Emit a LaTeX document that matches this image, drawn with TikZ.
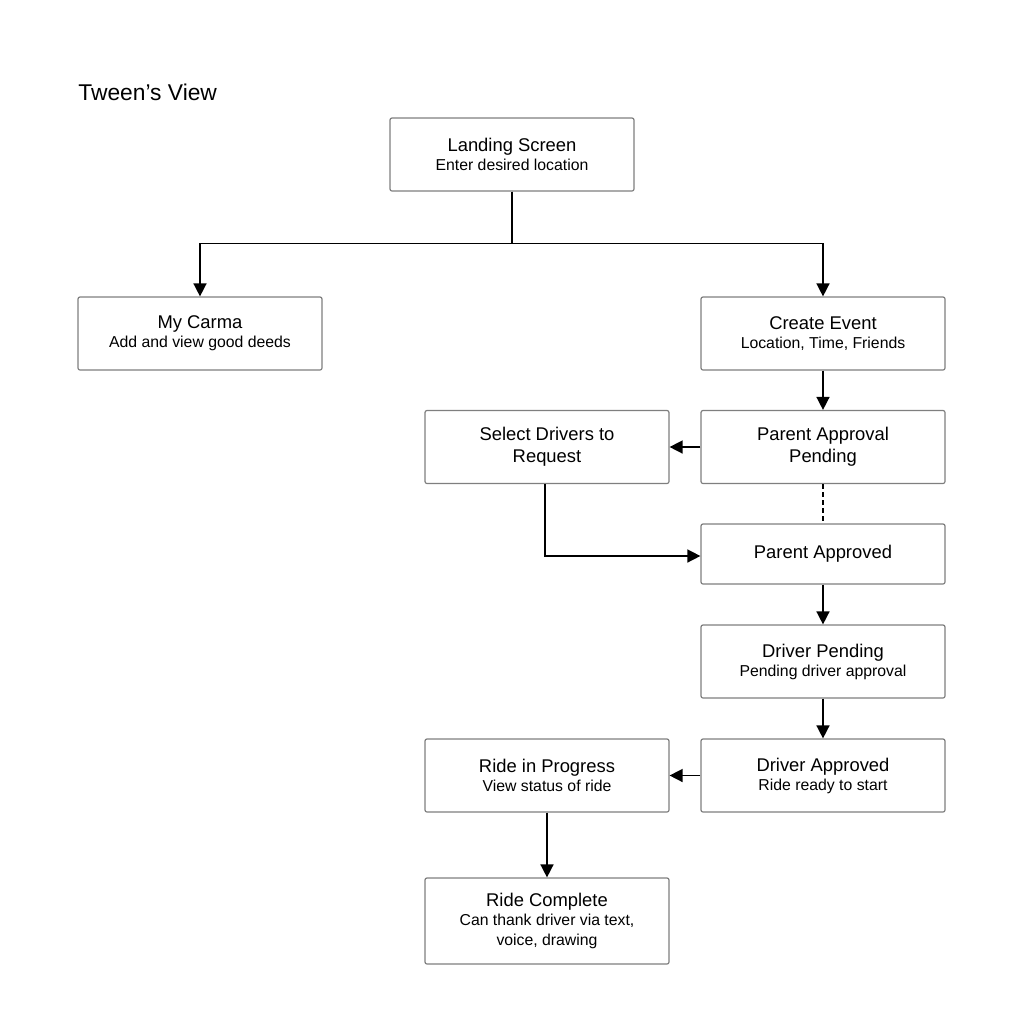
\documentclass[tikz,border=0pt]{standalone}
\usepackage{fontspec}
\setsansfont{Liberation Sans}
\usetikzlibrary{arrows.meta}
\definecolor{boxborder}{HTML}{7F7F7F}
\definecolor{flowblack}{HTML}{000000}
\newcommand{\subline}{\fontsize{7.9}{9.5}\selectfont}
\tikzset{
  >={Triangle[length=6.5pt, width=6.5pt]},
  every node/.style={font=\sffamily},
  screen/.style={
    rectangle, rounded corners=1pt, draw=boxborder, line width=0.6pt,
    fill=white, minimum width=122pt, minimum height=36.5pt, align=center,
    inner sep=2pt, font=\sffamily\fontsize{9.2}{11}\selectfont
  },
  flow/.style={->, flowblack, line width=0.75pt},
  waitline/.style={flowblack, line width=0.6pt, dash pattern=on 2.5pt off 1.5pt},
  heading/.style={anchor=base west, inner sep=0pt, font=\sffamily\fontsize{11.4}{13}\selectfont}
}

\begin{document}
\begin{tikzpicture}[x=0.5pt, y=-0.5pt]
\useasboundingbox (0,0) rectangle (1024,1024);

% Title
\node[heading] (title) at (78, 100) {Tween’s View};

% Screens (pixel grid, y down)
\node[screen] (landing)  at (512, 154.5) {Landing Screen\\[-1.5pt]\subline Enter desired location};
\node[screen] (carma)    at (200, 333.5) {My Carma\\[-1.5pt]\subline Add and view good deeds};
\node[screen] (event)    at (823, 333.5) {Create Event\\[-1.5pt]\subline Location, Time, Friends};
\node[screen] (select)   at (547, 447)   {Select Drivers to\\Request};
\node[screen] (pending)  at (823, 447)   {Parent Approval\\Pending};
\node[screen, minimum height=30pt] (approved) at (823, 554) {Parent Approved};
\node[screen] (drvpend)  at (823, 661.5) {Driver Pending\\[-1.5pt]\subline Pending driver approval};
\node[screen] (drvok)    at (823, 775.5) {Driver Approved\\[-1.5pt]\subline Ride ready to start};
\node[screen] (progress) at (547, 775.5) {Ride in Progress\\[-1.5pt]\subline View status of ride};
\node[screen, minimum height=43pt] (complete) at (547, 921)
  {Ride Complete\\[-1.5pt]\subline Can thank driver via text,\\[-1pt]\subline voice, drawing};

% Branch from landing screen
\draw[flow] (landing.south) -- ++(0,52) -| (carma.north);
\draw[flow] (landing.south) -- ++(0,52) -| (event.north);

% Main flow
\draw[flow] (event) -- (pending);
\draw[flow] (pending) -- (select);
\draw[waitline] (pending) -- (approved);
\draw[flow] ([xshift=-1pt]select.south) |- ([yshift=-1pt]approved.west);
\draw[flow] (approved) -- (drvpend);
\draw[flow] (drvpend) -- (drvok);
\draw[flow] (drvok) -- (progress);
\draw[flow] (progress) -- (complete);

\end{tikzpicture}
\end{document}
